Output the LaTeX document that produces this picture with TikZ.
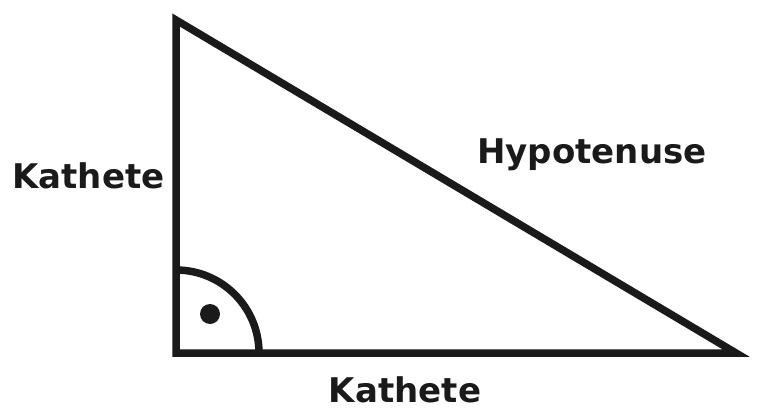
\documentclass[tikz,border=0pt]{standalone}
\usepackage{fontspec}
\setmainfont{DejaVu Sans}
\definecolor{ink}{HTML}{1A1A1A}
\begin{document}
\begin{tikzpicture}[x=1pt,y=1pt,
  edge/.style={draw=ink,line width=7.5pt,line join=miter},
  lbl/.style={text=ink,font=\fontsize{34}{40}\selectfont\bfseries,anchor=base,inner sep=0pt}]
\useasboundingbox (0,0) rectangle (758,408);
\coordinate (A) at (176,388);
\coordinate (B) at (176,55);
\coordinate (C) at (736,55);
\draw[edge] (A) -- (B) -- (C) -- cycle;
\coordinate (arcstart) at (176,138);
\draw[edge] (arcstart) arc[start angle=90,end angle=0,radius=83];
\fill[ink] (210,94) circle[radius=10];
\node[lbl] (leg1) at (88.5,220) {Kathete};
\node[lbl] (hyp) at (592,245) {Hypotenuse};
\node[lbl] (leg2) at (405,5.5) {Kathete};
\end{tikzpicture}
\end{document}
